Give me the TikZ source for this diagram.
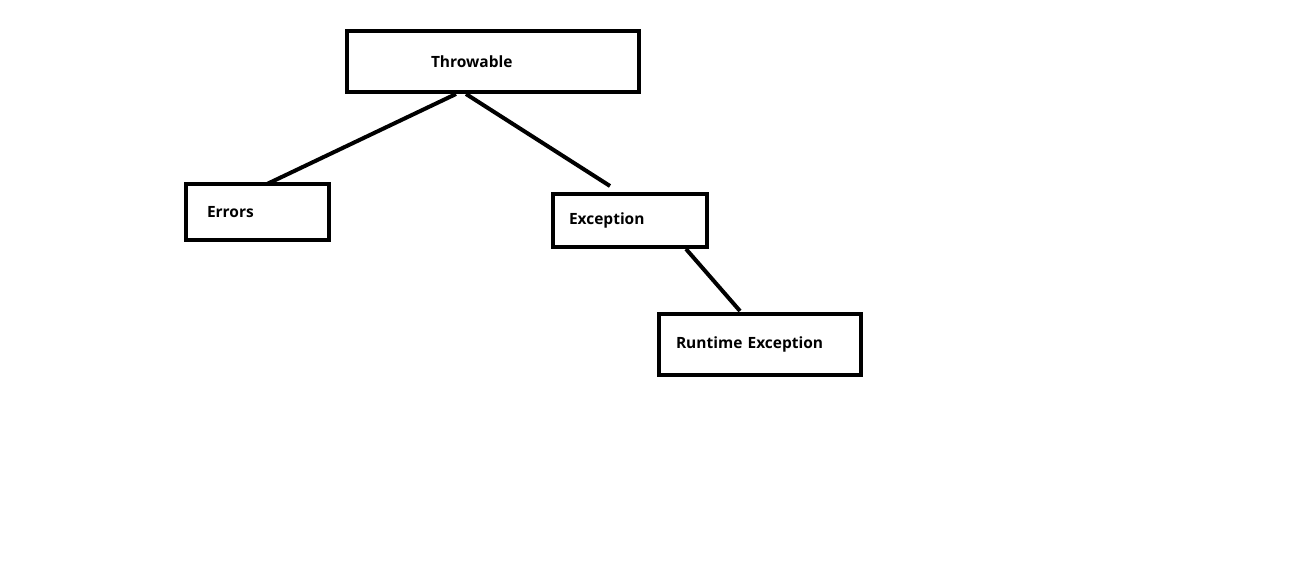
\documentclass[tikz,border=0pt]{standalone}
\usepackage{fontspec}
\setmainfont{Open Sans}
\begin{document}
\begin{tikzpicture}[x=1pt, y=-1pt,
    box/.style={draw, line width=4.5pt, inner sep=0pt, outer sep=0pt, anchor=north west, align=left, font=\bfseries\fontsize{15.5}{18}\selectfont},
    link/.style={line width=4pt}]
    \useasboundingbox (0,0) rectangle (1293,583);
    % classes
    \node[box, text width=292pt, minimum height=61pt] (thr) at (347,31) {\hspace*{84pt}Throwable};
    \node[box, text width=143pt, minimum height=56pt] (err) at (186,184) {\hspace*{21pt}Errors};
    \node[box, text width=154pt, minimum height=53pt] (exc) at (553,194) {\hspace*{16pt}Exception};
    \node[box, text width=202pt, minimum height=61pt] (rte) at (659,314) {\hspace*{17pt}Runtime Exception};
    % hierarchy
    \draw[link] ([xshift=109pt, yshift=-2pt]thr.south west) -- ([xshift=81pt]err.north west);
    \draw[link] ([xshift=119pt, yshift=-2pt]thr.south west) -- ([xshift=57pt, yshift=8pt]exc.north west);
    \draw[link] ([xshift=133pt, yshift=-2pt]exc.south west) -- ([xshift=81pt, yshift=3pt]rte.north west);
\end{tikzpicture}
\end{document}
